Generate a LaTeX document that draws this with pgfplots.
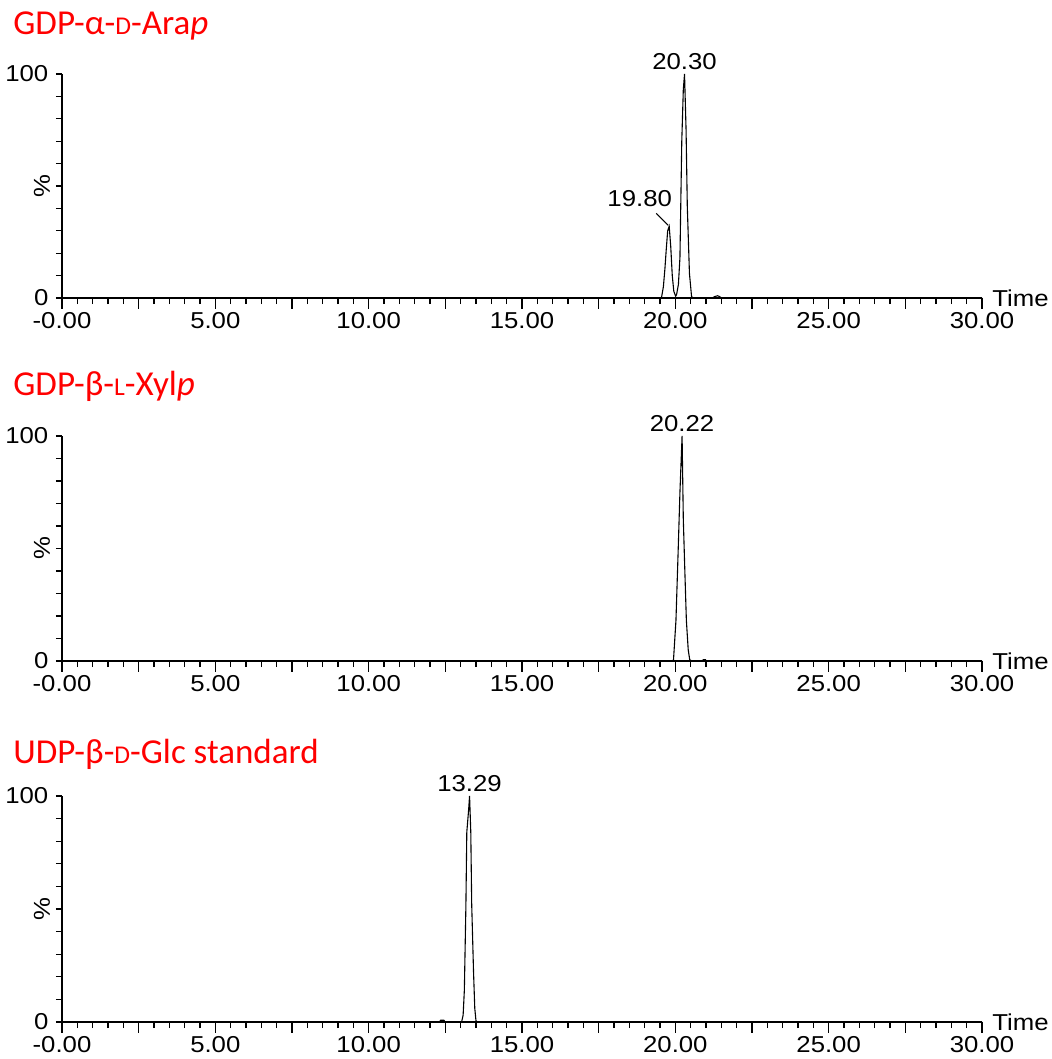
\documentclass[border=0pt]{standalone}
\usepackage{fontspec}
\setmainfont{Liberation Sans}
\newfontfamily\tickfont[FakeStretch=1.12]{Liberation Sans}
\newfontfamily\titlefont{Carlito}
\usepackage{pgfplots}
\pgfplotsset{compat=1.18}
\definecolor{titlered}{RGB}{255,0,0}
\newcommand{\sca}[1]{{\fontsize{12.8}{13}\selectfont #1}}
\newcommand{\tf}{\tickfont\fontsize{11.5}{13}\selectfont}
\pgfplotsset{chrom/.style={
  scale only axis, width=460pt, anchor=south west,
  xmin=0,xmax=30,ymin=0,ymax=100,
  axis x line=bottom, axis y line=left,
  axis line style={-, line width=0.8pt, black},
  tick align=outside,
  xtick={0,5,...,30}, xticklabels={-0.00,5.00,10.00,15.00,20.00,25.00,30.00},
  minor x tick num=9,
  extra x ticks={2.5,7.5,12.5,17.5,22.5,27.5}, extra x tick labels={},
  ytick={0,100}, yticklabels={0,100},
  every major y tick/.append style={draw=none},
  minor ytick={0,10,...,100},
  major tick length=5.3pt, minor tick length=3pt,
  tick style={line width=0.6pt, black},
  tick label style={font=\tf},
  xticklabel style={inner sep=1.5pt},
  yticklabel style={xshift=2pt},
  /pgf/number format/assume math mode=true,
  xlabel={Time},
  xlabel style={at={(axis description cs:1,0)}, anchor=west, inner sep=0pt, xshift=5pt, font=\tf},
  ylabel={\%},
  ylabel style={at={([xshift=-10pt]axis description cs:0,0.5)}, anchor=center, inner sep=0pt, font=\tf},
  clip=false,
}}
\begin{document}
\begin{tikzpicture}
\useasboundingbox (0,0) rectangle (525.5pt,-529.5pt);
\node[anchor=base west, inner sep=0, text=titlered, font=\titlefont\fontsize{17.5}{20}\selectfont] at (6.5pt,-17.5pt) {GDP-α-\sca{D}-Ara\textit{p}};
\node[anchor=base west, inner sep=0, text=titlered, font=\titlefont\fontsize{17.5}{20}\selectfont] at (6.5pt,-197.5pt) {GDP-β-\sca{L}-Xyl\textit{p}};
\node[anchor=base west, inner sep=0, text=titlered, font=\titlefont\fontsize{17.5}{20}\selectfont] at (6.5pt,-381.5pt) {UDP-β-\sca{D}-Glc standard};

\begin{axis}[chrom, at={(31pt,-149pt)}, height=112pt]
\addplot[black, line width=0.55pt] coordinates {(0,0) (19.50,0) (19.55,0.3) (19.61,5) (19.66,13) (19.70,21) (19.75,30) (19.80,32) (19.85,23) (19.90,10) (19.95,3) (20.01,0.8) (20.04,1.5) (20.10,6) (20.15,18) (20.21,70) (20.26,93) (20.30,100) (20.35,75) (20.39,41) (20.46,11) (20.53,0.5) (20.60,0) (21.20,0) (21.28,0.6) (21.38,1.0) (21.45,0.6) (21.50,0) (30,0)};
\node[anchor=south, inner sep=0, font=\tf, yshift=2pt] at (axis cs:20.30,100) {20.30};
\node[anchor=south, inner sep=0, font=\tf] at ([xshift=-14.75pt,yshift=9.35pt]axis cs:19.80,32) {19.80};
\draw[line width=0.5pt] ([xshift=-0.5pt,yshift=0.5pt]axis cs:19.80,32) -- ([xshift=-6.5pt,yshift=6.5pt]axis cs:19.80,32);
\end{axis}

\begin{axis}[chrom, at={(31pt,-330.5pt)}, height=112.5pt]
\addplot[black, line width=0.55pt] coordinates {(0,0) (19.90,0) (19.94,0.5) (20.02,18) (20.09,48) (20.15,75) (20.22,100) (20.26,63) (20.31,40) (20.36,18) (20.42,5) (20.47,0.5) (20.55,0) (20.85,0) (20.92,0.6) (20.98,0.6) (21.02,0) (30,0)};
\node[anchor=south, inner sep=0, font=\tf, yshift=2pt] at (axis cs:20.22,100) {20.22};
\end{axis}

\begin{axis}[chrom, at={(31pt,-511pt)}, height=113pt]
\addplot[black, line width=0.55pt] coordinates {(0,0) (12.30,0) (12.35,0.8) (12.45,0.8) (12.50,0) (13.03,0) (13.08,3) (13.12,14) (13.17,51) (13.20,84) (13.26,94) (13.29,100) (13.33,84) (13.36,52) (13.42,22) (13.46,6) (13.50,0.5) (13.55,0) (30,0)};
\node[anchor=south, inner sep=0, font=\tf, yshift=2pt] at (axis cs:13.29,100) {13.29};
\end{axis}
\end{tikzpicture}
\end{document}
